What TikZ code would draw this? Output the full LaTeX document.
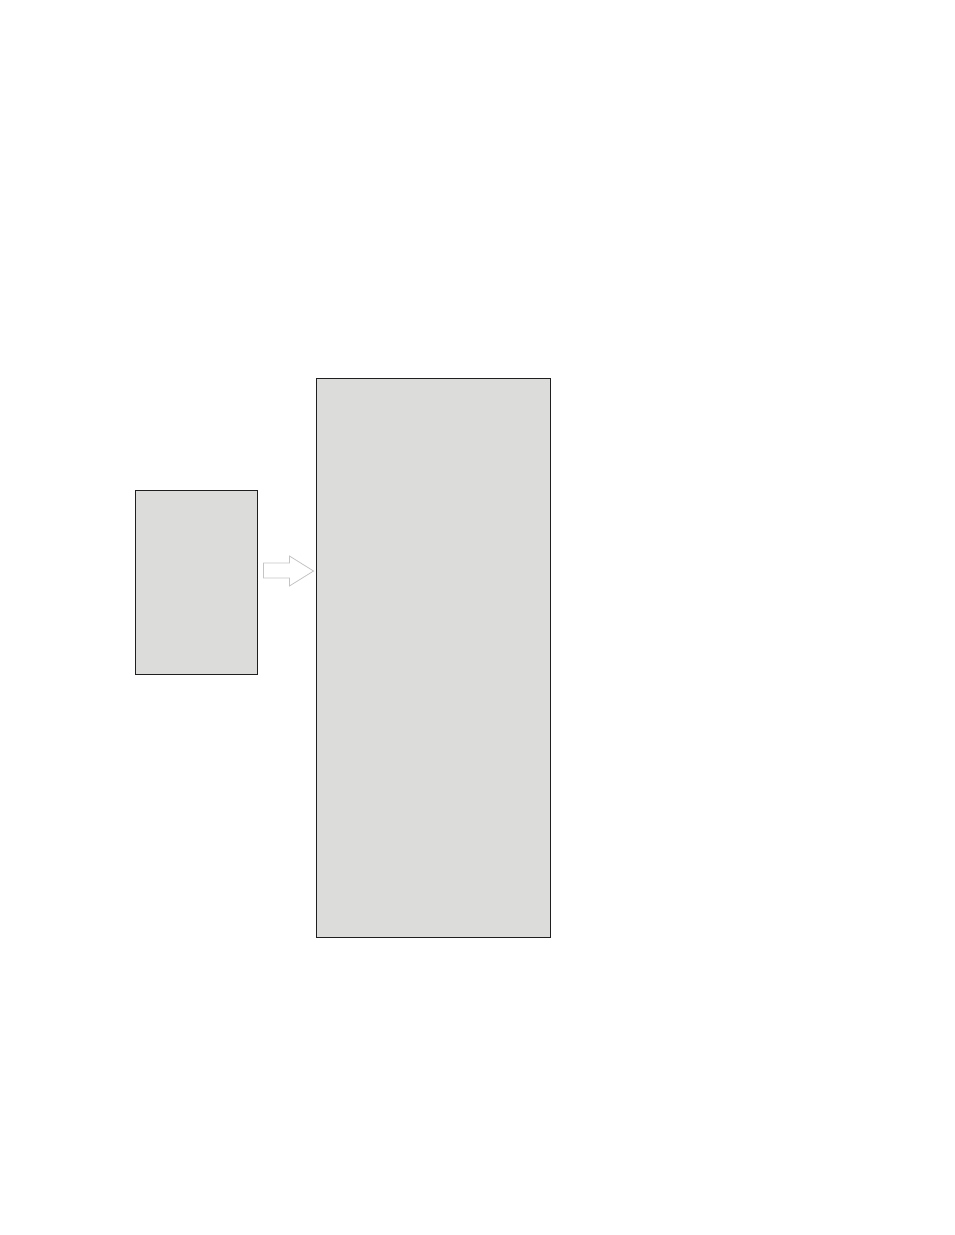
\documentclass[tikz,border=0pt]{standalone}
\usepackage{tikz}
\usetikzlibrary{calc}

\definecolor{boxgray}{HTML}{DCDCDA}
\definecolor{edgegray}{HTML}{C4C4C4}

\begin{document}
\begin{tikzpicture}[x=1pt,y=-1pt,
        blockbox/.style={draw=black!88,fill=boxgray,line width=0.9pt,inner sep=0pt}]
                    \useasboundingbox (0,0) rectangle (954,1235);

                    \node[blockbox,minimum width=122pt,minimum height=184pt] (src) at (196, 582) {};
                    \node[blockbox,minimum width=234pt,minimum height=559pt] (dst) at (433, 657.5) {};

                    \draw[edgegray,fill=white,line width=0.8pt]
                        ($(src.east)+(6,-19)$) -- ++(26,0) -- ++(0,-7) -- ($(dst.west)+(-2,-86.5)$)
                        -- ($(src.east)+(32,4)$) -- ++(0,-8) -- ($(src.east)+(6,-4)$) -- cycle;
                \end{tikzpicture}
\end{document}
